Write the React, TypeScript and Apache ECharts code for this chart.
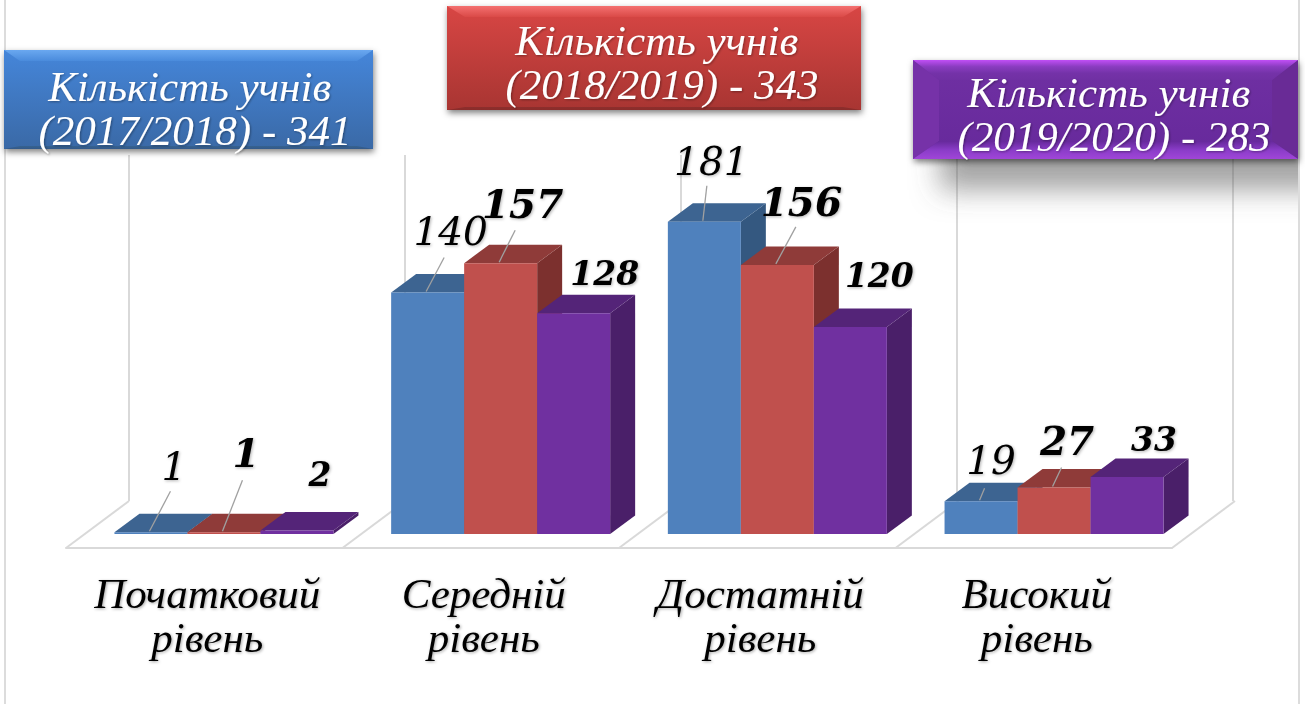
import React, { useEffect, useRef } from "react";
import * as echarts from "echarts";

const categories = ["Початковий\nрівень", "Середній\nрівень", "Достатній\nрівень", "Високий\nрівень"];
const students2017 = [1, 140, 181, 19];
const students2018 = [1, 157, 156, 27];
const students2019 = [2, 128, 120, 33];

const FONT = '"DejaVu Serif"';
const TEXT_FONT = '"Liberation Serif"';

// label centre, relative to the top centre of the bar's front face
const labelOffsets = [
  [[23, -66], [23, -61], [7, -60], [10, -41]],
  [[22, -79], [22, -59], [24, -63], [13, -46]],
  [[23, -56], [31, -40], [29, -52], [27, -38]],
];
// end of each leader line, relative to the same point
const leaderEnds: (number[] | null)[][] = [
  [[21, -41], [18, -35], [4, -36], [5, -13]],
  [[20, -52], [16, -33], [20, -38], [9, -20]],
  [null, null, null, null],
];

const seriesStyles = [
  { front: "#4f81bd", top: "#3d6491", side: "#345880", font: `italic normal 39px ${FONT}` },
  { front: "#c0504d", top: "#8f3b39", side: "#7c302e", font: `italic bold 39px ${FONT}` },
  { front: "#7030a0", top: "#542478", side: "#4a1f69", font: `italic bold 33px ${FONT}` },
];

const DEPTH_X = 25;
const DEPTH_Y = 18.5;
const BAR_SHARE = 73 / 276.7;

function barSeries(values: number[], idx: number) {
  const s = seriesStyles[idx];
  return {
    type: "custom",
    xAxisIndex: 0,
    yAxisIndex: 0,
    clip: false,
    z: 5 + idx,
    encode: { x: 0, y: 1 },
    data: values.map((v, i) => [i, v]),
    renderItem: (_p: any, api: any) => {
      const cat = api.value(0);
      const val = api.value(1);
      const top = api.coord([cat, val]);
      const base = api.coord([cat, 0]);
      const w = api.size([1, 0])[0] * BAR_SHARE;
      const x0 = top[0] - 1.5 * w + idx * w;
      const x1 = x0 + w;
      const cx = x0 + w / 2;
      const off = labelOffsets[idx][cat];
      const lead = leaderEnds[idx][cat];
      const children: any[] = [
        { type: "polygon", shape: { points: [[x1, top[1]], [x1 + DEPTH_X, top[1] - DEPTH_Y], [x1 + DEPTH_X, base[1] - DEPTH_Y], [x1, base[1]]] }, style: { fill: s.side } },
        { type: "polygon", shape: { points: [[x0, top[1]], [x0 + DEPTH_X, top[1] - DEPTH_Y], [x1 + DEPTH_X, top[1] - DEPTH_Y], [x1, top[1]]] }, style: { fill: s.top } },
        { type: "rect", shape: { x: x0, y: top[1], width: w, height: base[1] - top[1] }, style: { fill: s.front } },
      ];
      if (lead) {
        children.push({
          type: "line",
          shape: { x1: cx - 1.5, y1: top[1] - 1, x2: cx - 1.5 + lead[0], y2: top[1] + lead[1] },
          style: { stroke: "#a0a0a0", lineWidth: 1.3 },
        });
      }
      children.push({
        type: "text",
        z2: 50,
        style: {
          x: cx + off[0],
          y: top[1] + off[1],
          text: String(val),
          font: s.font,
          fill: "#000",
          align: "center",
          verticalAlign: "middle",
          textShadowColor: "rgba(0,0,0,0.3)",
          textShadowBlur: 3,
          textShadowOffsetX: 1,
          textShadowOffsetY: 1,
        },
      });
      return { type: "group", children };
    },
  };
}

type BoxColors = { main: string[]; top: string[]; bottom: string[]; left?: string; right?: string };

function box(
  x: number, y: number, w: number, h: number, ix: number, iy: number, iyb: number,
  c: BoxColors, text: string, cx: number, cy: number,
) {
  const grad = (cols: string[]) => ({
    type: "linear", x: 0, y: 0, x2: 0, y2: 1,
    colorStops: cols.map((color, i) => ({ offset: i / (cols.length - 1), color })),
  });
  const X = x + w, Y = y + h;
  const children: any[] = [
    { type: "rect", z: 30, shape: { x, y, width: w, height: h }, style: { fill: c.main[0], shadowBlur: 6, shadowColor: "rgba(0,0,0,0.5)", shadowOffsetX: 1, shadowOffsetY: 3 } },
    { type: "rect", z: 31, shape: { x, y, width: w, height: h }, style: { fill: grad(c.main) } },
  ];
  if (c.left) children.push({ type: "polygon", z: 31, shape: { points: [[x, y], [x + ix, y + iy], [x + ix, Y - iyb], [x, Y]] }, style: { fill: c.left } });
  if (c.right) children.push({ type: "polygon", z: 31, shape: { points: [[X, y], [X - ix, y + iy], [X - ix, Y - iyb], [X, Y]] }, style: { fill: c.right } });
  children.push(
    { type: "polygon", z: 31, shape: { points: [[x, y], [X, y], [X - ix, y + iy], [x + ix, y + iy]] }, style: { fill: grad(c.top) } },
    { type: "polygon", z: 31, shape: { points: [[x, Y], [X, Y], [X - ix, Y - iyb], [x + ix, Y - iyb]] }, style: { fill: grad(c.bottom) } },
    {
      type: "text", z: 32, x: cx, y: cy,
      style: {
        text, font: `italic normal 43px ${TEXT_FONT}`, fill: "#fff", align: "center", verticalAlign: "middle", lineHeight: 44,
        textShadowColor: "rgba(0,0,0,0.35)", textShadowBlur: 2, textShadowOffsetX: 1, textShadowOffsetY: 1,
      },
    },
  );
  return { type: "group", z: 30, children };
}

export default function App() {
  const ref = useRef<HTMLDivElement>(null);
  useEffect(() => {
    const chart = echarts.init(ref.current!, null, { renderer: "svg" });
    const diagonalBases = [66, 342.5, 619, 895.5, 1172];
    chart.setOption({
      animation: false,
      backgroundColor: "#fff",
      grid: [
        { left: 85.6, width: 1106.8, top: 189, height: 345 },
        { left: 66, width: 1106, top: 400, height: 148 },
        { left: 129, width: 1104, top: 155, height: 346 },
      ],
      xAxis: [
        { type: "category", gridIndex: 0, data: categories, show: false },
        {
          type: "category", gridIndex: 1, data: categories,
          axisLine: { show: true, lineStyle: { color: "#d9d9d9", width: 2 } },
          axisTick: { show: false },
          axisLabel: {
            interval: 0, margin: 23, color: "#000", fontFamily: TEXT_FONT, fontStyle: "italic", fontSize: 43, lineHeight: 44,
            padding: [0, 0, 0, 6],
            textShadowColor: "rgba(0,0,0,0.35)", textShadowBlur: 3, textShadowOffsetX: 1, textShadowOffsetY: 1,
          },
        },
        {
          type: "category", gridIndex: 2, data: categories,
          axisLine: { show: false }, axisTick: { show: false }, axisLabel: { show: false },
          splitLine: { show: true, interval: 0, lineStyle: { color: "#d9d9d9", width: 2 } },
        },
      ],
      yAxis: [
        { type: "value", gridIndex: 0, min: 0, max: 200, show: false },
        { type: "value", gridIndex: 1, show: false },
        { type: "value", gridIndex: 2, show: false },
      ],
      series: [barSeries(students2017, 0), barSeries(students2018, 1), barSeries(students2019, 2)],
      graphic: [
        { type: "line", z: 0, shape: { x1: 5, y1: 0, x2: 5, y2: 704 }, style: { stroke: "#dcdcdc", lineWidth: 2 } },
        ...diagonalBases.map((b) => ({
          type: "line", z: 0, shape: { x1: b, y1: 548, x2: b + 63, y2: 501 }, style: { stroke: "#d9d9d9", lineWidth: 2 },
        })),
        { type: "rect", z: 20, shape: { x: 940, y: 62, width: 400, height: 90 }, style: { fill: "#999", shadowBlur: 28, shadowColor: "rgba(90,90,90,0.55)", shadowOffsetY: 38 } },
        { type: "rect", z: 25, shape: { x: 1299, y: 0, width: 6, height: 704 }, style: { fill: "#fff" } },
        { type: "line", z: 26, shape: { x1: 1299, y1: 0, x2: 1299, y2: 704 }, style: { stroke: "#dcdcdc", lineWidth: 2 } },
        box(4, 50, 369, 99, 16, 11, 3, { main: ["#4586da", "#3a69a6"], top: ["#6aa8f0", "#4a8bdc"], bottom: ["#36628f", "#33598a"] }, "Кількість учнів \n(2017/2018) - 341", 195, 108),
        box(447, 6, 414, 104, 18, 11, 3, { main: ["#d84644", "#a83532"], top: ["#f47070", "#da4a47"], bottom: ["#8d2e2c", "#8a2c2a"] }, "Кількість учнів \n(2018/2019) - 343", 662, 62),
        box(913, 60, 385, 99, 26, 20, 18, { main: ["#7030a3", "#66299b"], top: ["#c04ff5", "#8a3cc0", "#7432a8", "#7030a3"], bottom: ["#66299b", "#8a3cc8", "#a046d8"], left: "#7632a8", right: "#692b96" }, "Кількість учнів \n(2019/2020) - 283", 1114, 114),
      ],
    });
    return () => chart.dispose();
  }, []);
  return <div ref={ref} style={{ position: "absolute", left: 0, top: 0, width: 1305, height: 704 }} />;
}
